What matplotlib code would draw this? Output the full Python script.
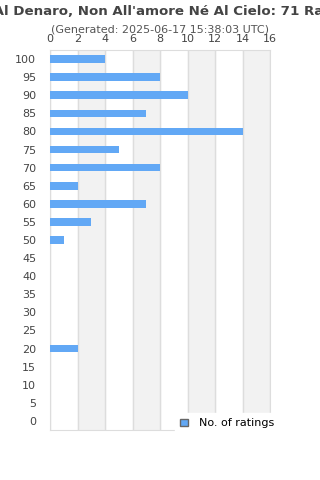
import matplotlib as mpl
mpl.use('Agg')
import matplotlib.pyplot as plt
import numpy as np

scores = [0, 5, 10, 15, 20, 25, 30, 35, 40, 45, 50, 55, 60, 65, 70, 75, 80, 85, 90, 95, 100]
counts = [0, 0, 0, 0, 2, 0, 0, 0, 0, 0, 1, 3, 7, 2, 8, 5, 14, 7, 10, 8, 4]
xticks = [0, 2, 4, 6, 8, 10, 12, 14, 16]

title = "Non Al Denaro, Non All'amore Né Al Cielo: 71 Ratings"
subtitle = "(Generated: 2025-06-17 15:38:03 UTC)"

fig = plt.figure(figsize=(3.2, 4.8), dpi=100)
ax = fig.add_axes([50/320, 50/480, 220/320, 380/480])

# alternating bands
for i in range(0, 16, 4):
    ax.axvspan(i + 2, i + 4, color='#f2f2f2', zorder=0)

pos = np.arange(len(scores))
ax.barh(pos, counts, height=0.42, color='#62a8f5', zorder=3, label='No. of ratings')

ax.set_xlim(0, 16)
ax.set_ylim(-0.5, len(scores) - 0.5)
ax.set_xticks(xticks)
ax.set_yticks(pos)
ax.set_yticklabels([str(s) for s in scores])
ax.xaxis.tick_top()
ax.grid(axis='x', color='#dddddd', linewidth=1, zorder=1)
ax.tick_params(axis='both', length=0, labelsize=8, colors='#444444')
ax.tick_params(axis='x', pad=4.5)
ax.tick_params(axis='y', pad=10)
for s in ax.spines.values():
    s.set_color('#dddddd')

fig.text(0.5, 1 - 12/480, title, ha='center', va='center', fontsize=9.6,
         fontweight='bold', color='#444444')
fig.text(0.5, 1 - 30/480, subtitle, ha='center', va='center', fontsize=8, color='#555555')

leg = ax.legend(loc='lower right', bbox_to_anchor=(1.07, -0.025), fontsize=8,
                frameon=True, fancybox=False, handlelength=0.7, handleheight=0.7,
                handletextpad=1.0, borderpad=0.5)
leg.get_frame().set_facecolor('white')
leg.get_frame().set_edgecolor('white')
leg.get_frame().set_alpha(1)
leg.legend_handles[0].set_edgecolor('#666666')

fig.savefig('out.png', dpi=100)
